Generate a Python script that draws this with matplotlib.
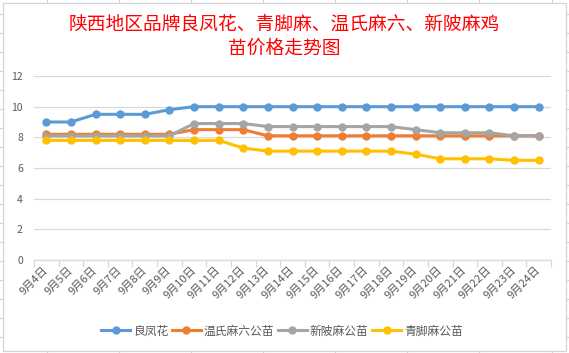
import matplotlib
matplotlib.use("Agg")
import matplotlib.pyplot as plt
from matplotlib.lines import Line2D
from matplotlib.patches import Rectangle

plt.rcParams['font.family'] = ['Noto Sans CJK SC', 'DejaVu Sans']

dates = ["9月4日", "9月5日", "9月6日", "9月7日", "9月8日", "9月9日", "9月10日",
         "9月11日", "9月12日", "9月13日", "9月14日", "9月15日", "9月16日",
         "9月17日", "9月18日", "9月19日", "9月20日", "9月21日", "9月22日",
         "9月23日", "9月24日"]
liangfenghua = [9, 9, 9.5, 9.5, 9.5, 9.8, 10, 10, 10, 10, 10, 10, 10, 10, 10,
                10, 10, 10, 10, 10, 10]
wenshi = [8.2, 8.2, 8.2, 8.2, 8.2, 8.2, 8.5, 8.5, 8.5, 8.1, 8.1, 8.1, 8.1, 8.1,
          8.1, 8.1, 8.1, 8.1, 8.1, 8.1, 8.1]
xinpi = [8.1, 8.1, 8.1, 8.1, 8.1, 8.1, 8.9, 8.9, 8.9, 8.7, 8.7, 8.7, 8.7, 8.7,
         8.7, 8.5, 8.3, 8.3, 8.3, 8.1, 8.1]
qingjiao = [7.8, 7.8, 7.8, 7.8, 7.8, 7.8, 7.8, 7.8, 7.3, 7.1, 7.1, 7.1, 7.1,
            7.1, 7.1, 6.9, 6.6, 6.6, 6.6, 6.5, 6.5]

series = [("良凤花", liangfenghua, "#5B9BD5"),
          ("温氏麻六公苗", wenshi, "#ED7D31"),
          ("新陂麻公苗", xinpi, "#A5A5A5"),
          ("青脚麻公苗", qingjiao, "#FFC000")]

W, H = 569, 353
fig = plt.figure(figsize=(W / 100, H / 100), dpi=100)
fig.patch.set_facecolor("white")

def px(x, y):
    return x / W, 1 - y / H

# Excel cell grid in the margins
gc = "#D4D4D4"
for cx in [47, 119, 191, 263, 335, 407, 479, 552]:
    for (y0, y1) in [(0, 3), (351, 353)]:
        fig.add_artist(Line2D([cx / W, cx / W], [1 - y0 / H, 1 - y1 / H], color=gc, lw=0.8))
for k in range(18):
    ry = 14 + 19 * k
    for (x0, x1) in [(0, 3), (566, 569)]:
        fig.add_artist(Line2D([x0 / W, x1 / W], [1 - ry / H, 1 - ry / H], color=gc, lw=0.8))
# chart frame
fig.add_artist(Rectangle(px(3, 351), 563 / W, 348 / H, fill=False, ec=gc, lw=0.9))

ax = fig.add_axes([34 / W, 1 - 260 / H, (551 - 34) / W, (260 - 76) / H])
x = list(range(len(dates)))
for name, vals, col in series:
    ax.plot(x, vals, color=col, lw=2.2, marker="o", ms=5, label=name)

ax.set_xlim(-0.5, len(dates) - 0.5)
ax.set_ylim(0, 12)
ax.set_yticks(range(0, 13, 2))
ax.grid(axis="y", color="#D9D9D9", lw=0.9)
ax.set_axisbelow(True)
for s in ["top", "right", "left"]:
    ax.spines[s].set_visible(False)
ax.spines["bottom"].set_color("#D9D9D9")
ax.spines["bottom"].set_linewidth(0.9)

ax.set_xticks(x)
ax.set_xticklabels(dates, rotation=45, ha="right", va="center", rotation_mode="anchor",
                   fontsize=8, color="#595959")
ax.tick_params(axis="x", length=0, pad=6)
ax.set_xticks([i - 0.5 for i in range(len(dates) + 1)], minor=True)
ax.tick_params(axis="x", which="minor", length=5, color="#D9D9D9", width=0.9)
ax.tick_params(axis="y", length=0, labelsize=7.5, labelcolor="#595959", pad=8)

fig.text(0.5, 1 - 36 / H, "陕西地区品牌良凤花、青脚麻、温氏麻六、新陂麻鸡\n苗价格走势图",
         ha="center", va="center", color="red", fontsize=13.5, linespacing=1.25)

ax.legend(loc="center", bbox_to_anchor=((282 - 34) / (551 - 34), (331 - 260) / -(260 - 76)),
          bbox_transform=ax.transAxes, ncol=4, frameon=False, fontsize=8.5,
          labelcolor="#595959", handlelength=2.45, handletextpad=0.25, columnspacing=0.3,
          borderaxespad=0)

fig.savefig("out.png", dpi=100)
